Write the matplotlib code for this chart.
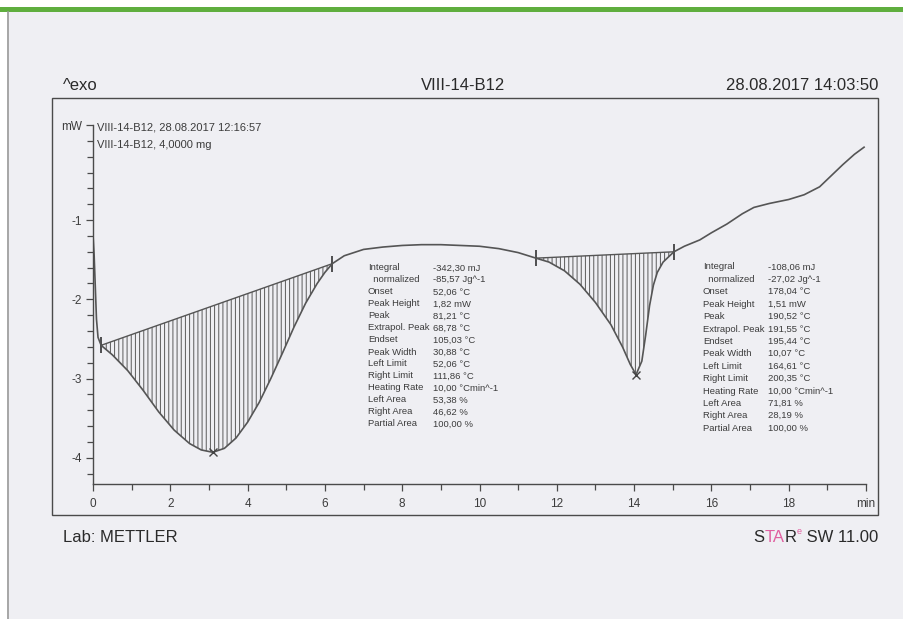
import matplotlib
matplotlib.use("Agg")
import matplotlib.pyplot as plt
import numpy as np
from matplotlib.patches import Rectangle
from matplotlib.lines import Line2D

# DSC curve (time in min, heat flow in mW)
time_min = [0.00, 0.03, 0.06, 0.09, 0.13, 0.21, 0.5, 0.9, 1.3, 1.7, 2.1, 2.5, 2.8, 3.1,
            3.4, 3.7, 4.0, 4.3, 4.6, 4.9, 5.2, 5.5, 5.8, 6.0, 6.19, 6.5, 7.0, 7.5, 8.0,
            8.5, 9.0, 9.5, 10.0, 10.5, 11.0, 11.46, 11.8, 12.2, 12.6, 13.0, 13.4, 13.7,
            13.9, 14.05, 14.2, 14.3, 14.4, 14.5, 14.6, 14.75, 15.03, 15.3, 15.7, 16.0,
            16.4, 16.8, 17.1, 17.5, 18.0, 18.4, 18.8, 19.1, 19.4, 19.7, 19.95]
heat_flow = [-1.18, -1.45, -1.85, -2.25, -2.48, -2.58, -2.70, -2.90, -3.15, -3.42, -3.65,
             -3.82, -3.90, -3.93, -3.88, -3.75, -3.55, -3.30, -3.00, -2.68, -2.35, -2.05,
             -1.80, -1.66, -1.55, -1.45, -1.37, -1.34, -1.32, -1.31, -1.31, -1.32, -1.33,
             -1.36, -1.41, -1.48, -1.53, -1.64, -1.81, -2.04, -2.32, -2.60, -2.82, -2.95,
             -2.78, -2.45, -2.08, -1.82, -1.66, -1.53, -1.40, -1.33, -1.25, -1.16, -1.05,
             -0.92, -0.84, -0.79, -0.74, -0.68, -0.58, -0.44, -0.30, -0.17, -0.08]

# integration limits (min, mW) and peaks
limits_1 = [(0.21, -2.58), (6.19, -1.55)]
limits_2 = [(11.46, -1.48), (15.03, -1.40)]
peak_1 = (3.1, -3.93)
peak_2 = (14.05, -2.95)

x_ticks = [0, 2, 4, 6, 8, 10, 12, 14, 16, 18, 20]
x_labels = ["0", "2", "4", "6", "8", "10", "12", "14", "16", "18", "min"]
y_ticks = [-4, -3, -2, -1, 0.2]
y_labels = ["-4", "-3", "-2", "-1", "mW"]

table_keys = ["Integral", "  normalized", "Onset", "Peak Height", "Peak", "Extrapol. Peak",
              "Endset", "Peak Width", "Left Limit", "Right Limit", "Heating Rate",
              "Left Area", "Right Area", "Partial Area"]
table_1 = ["-342,30 mJ", "-85,57 Jg^-1", "52,06 °C", "1,82 mW", "81,21 °C", "68,78 °C",
           "105,03 °C", "30,88 °C", "52,06 °C", "111,86 °C", "10,00 °Cmin^-1",
           "53,38 %", "46,62 %", "100,00 %"]
table_2 = ["-108,06 mJ", "-27,02 Jg^-1", "178,04 °C", "1,51 mW", "190,52 °C", "191,55 °C",
           "195,44 °C", "10,07 °C", "164,61 °C", "200,35 °C", "10,00 °Cmin^-1",
           "71,81 %", "28,19 %", "100,00 %"]

W, H = 904, 619
SANS = ["Liberation Sans", "DejaVu Sans"]
INK = "#3c3c3c"
HEAD = "#2a2a2a"
LINE = "#555555"


def fx(x):
    return x / W


def fy(y):
    return 1 - y / H


fig = plt.figure(figsize=(W / 100, H / 100), dpi=100)
fig.patch.set_facecolor("#efeff3")

# scan decorations: white margins, green bar, page edge, outer frame
fig.patches.append(Rectangle((0, fy(7)), 1, 7 / H, transform=fig.transFigure,
                             facecolor="white", edgecolor="none"))
fig.patches.append(Rectangle((0, 0), fx(7), 1, transform=fig.transFigure,
                             facecolor="white", edgecolor="none"))
fig.patches.append(Rectangle((0, fy(12)), 1, 5 / H, transform=fig.transFigure,
                             facecolor="#5fae3e", edgecolor="none"))
fig.lines.append(Line2D([fx(7.5), fx(7.5)], [0, fy(12)], transform=fig.transFigure,
                        color="#9a9a9a", lw=1.2))
fig.patches.append(Rectangle((fx(52), fy(515)), fx(878) - fx(52), fy(98) - fy(515),
                             transform=fig.transFigure, facecolor="none",
                             edgecolor="#4a4a4a", lw=1.0))

ax = fig.add_axes([fx(93), fy(484), fx(866) - fx(93), fy(125) - fy(484)])
ax.set_facecolor("none")
ax.set_xlim(0, 20)
ax.set_ylim(-4.33, 0.2)
for s in ["top", "right"]:
    ax.spines[s].set_visible(False)
for s in ["left", "bottom"]:
    ax.spines[s].set_color("#4a4a4a")
    ax.spines[s].set_linewidth(1.0)

ax.set_xticks(x_ticks)
ax.set_xticklabels(x_labels, family=SANS, fontsize=8.5, color=INK)
ax.set_xticks(np.arange(1, 20, 2), minor=True)
ax.set_yticks(y_ticks)
ax.set_yticklabels(y_labels, family=SANS, fontsize=8.5, color=INK)
ax.set_yticks(np.arange(-4.2, 0.1, 0.2), minor=True)
ax.tick_params(which="both", color="#4a4a4a", width=0.9)
ax.tick_params(which="major", length=5)
ax.tick_params(axis="x", which="major", pad=5)
ax.tick_params(axis="y", which="major", pad=3)
ax.tick_params(which="minor", length=4)

t = np.array(time_min)
v = np.array(heat_flow)
plt.rcParams["hatch.linewidth"] = 0.7
plt.rcParams["hatch.color"] = "#5a5a5a"

for (l, r) in [limits_1, limits_2]:
    m = (t >= l[0]) & (t <= r[0])
    base = np.interp(t[m], [l[0], r[0]], [l[1], r[1]])
    ax.fill_between(t[m], v[m], base, facecolor="none", edgecolor="#5a5a5a",
                    hatch="||||", lw=0)
    ax.plot([l[0], r[0]], [l[1], r[1]], color=LINE, lw=1.0)
    ax.plot([l[0], r[0]], [l[1], r[1]], ls="none", marker="|", ms=11,
            mew=1.2, color="#333333")

ax.plot(t, v, color=LINE, lw=1.2)
for p in [peak_1, peak_2]:
    ax.plot(*p, marker="x", ms=6, mew=1.0, color="#444444")

# sample info
fig.text(fx(97), fy(127), "VIII-14-B12, 28.08.2017 12:16:57", family=SANS,
         fontsize=8, color=INK, va="center")
fig.text(fx(97), fy(145), "VIII-14-B12, 4,0000 mg", family=SANS,
         fontsize=8, color=INK, va="center")

# result tables
for x0, x1, y0, dy, vals in [(368, 433, 268, 12.0, table_1), (703, 768, 267, 12.4, table_2)]:
    for i, (k, val) in enumerate(zip(table_keys, vals)):
        fig.text(fx(x0), fy(y0 + i * dy), k, family=SANS, fontsize=6.8,
                 color=INK, va="center")
        fig.text(fx(x1), fy(y0 + i * dy), val, family=SANS, fontsize=6.8,
                 color=INK, va="center")

# header and footer
fig.text(fx(63), fy(85), "^exo", family=SANS, fontsize=12, color=HEAD, va="center")
fig.text(fx(463), fy(85), "VIII-14-B12", family=SANS, fontsize=12, color=HEAD,
         va="center", ha="center")
fig.text(fx(878), fy(85), "28.08.2017 14:03:50", family=SANS, fontsize=12,
         color=HEAD, va="center", ha="right")
fig.text(fx(63), fy(537), "Lab: METTLER", family=SANS, fontsize=12, color=HEAD,
         va="center")
r_txt = fig.text(fx(878), fy(537), " SW 11.00", family=SANS, fontsize=12,
                 color=HEAD, va="center", ha="right")
fig.canvas.draw()
xr = r_txt.get_window_extent().x0
for s, c, size, dyo in [("e", "#e060a0", 6.5, 5), ("R", HEAD, 12, 0),
                        ("TA", "#e060a0", 12, 0), ("S", HEAD, 12, 0)]:
    tt = fig.text(xr / W, fy(537 - dyo), s, family=SANS, fontsize=size, color=c,
                  va="center", ha="right")
    fig.canvas.draw()
    xr = tt.get_window_extent().x0

fig.savefig("out.png", dpi=100, facecolor=fig.get_facecolor())
